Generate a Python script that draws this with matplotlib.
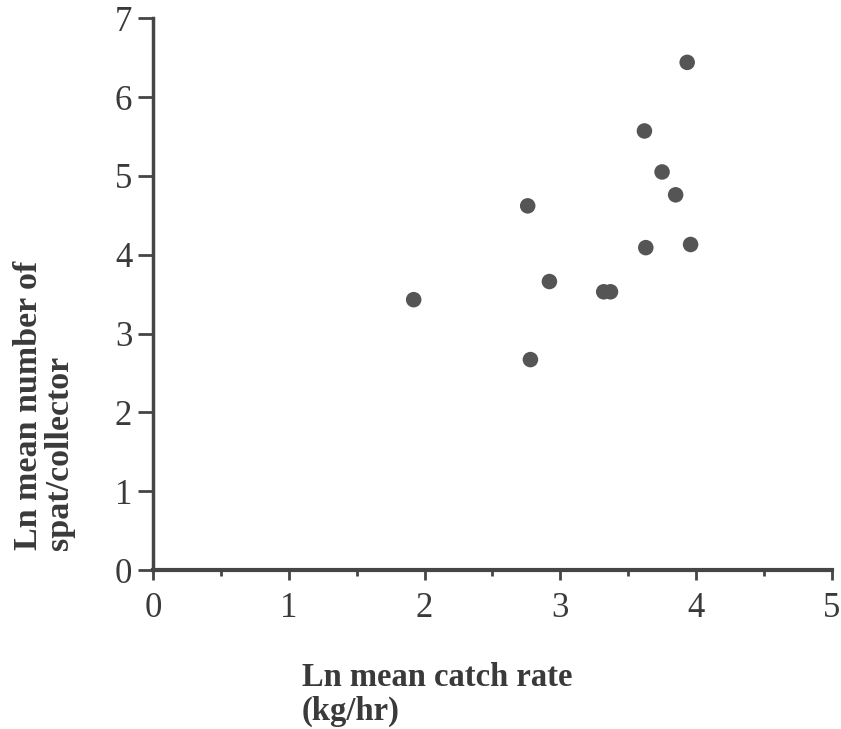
import matplotlib
matplotlib.use('Agg')
import matplotlib.pyplot as plt
from matplotlib.ticker import MultipleLocator

# ln mean catch rate (kg/hr) vs ln mean number of spat/collector
catch_rate = [1.92, 2.76, 2.78, 2.92, 3.32, 3.37, 3.62, 3.63, 3.75, 3.85, 3.935, 3.96]
spat = [3.43, 4.62, 2.67, 3.66, 3.53, 3.53, 5.57, 4.09, 5.05, 4.76, 6.44, 4.13]

x_ticks = [0, 1, 2, 3, 4, 5]
y_ticks = [0, 1, 2, 3, 4, 5, 6, 7]

ink = '#454545'
plt.rcParams['font.family'] = ['Liberation Serif', 'DejaVu Serif']

fig = plt.figure(figsize=(8.41, 7.29), dpi=100)
ax = fig.add_axes([0.182, 0.218, 0.807, 0.757])

ax.scatter(catch_rate, spat, s=125, color='#555555', edgecolors='none', zorder=3)

ax.set_xlim(0, 5)
ax.set_ylim(0, 7)
ax.set_xticks(x_ticks)
ax.set_yticks(y_ticks)
ax.xaxis.set_minor_locator(MultipleLocator(0.5))

for s in ['top', 'right']:
    ax.spines[s].set_visible(False)
ax.spines['left'].set_linewidth(2.5)
ax.spines['bottom'].set_linewidth(3)
ax.spines['left'].set_color(ink)
ax.spines['bottom'].set_color(ink)

ax.tick_params(axis='y', direction='out', length=11, width=2, color=ink,
               labelsize=25, labelcolor='#3a3a3a', pad=4)
ax.tick_params(axis='x', which='major', direction='out', length=7, width=2,
               color=ink, labelsize=25, labelcolor='#3a3a3a', pad=9)
ax.tick_params(axis='x', which='minor', direction='out', length=4, width=2, color=ink)

fig.text(302 / 841, 1 - 662 / 729, 'Ln mean catch rate\n(kg/hr)', ha='left', va='top',
         fontsize=23.5, fontweight='bold', color='#3a3a3a', multialignment='left',
         linespacing=1.1)
fig.text(44 / 841, 1 - 550 / 729, 'Ln mean number of\nspat/collector', ha='center',
         va='bottom', rotation=90, fontsize=24.5, fontweight='bold', color='#3a3a3a',
         multialignment='left', linespacing=1.0)

fig.savefig('out.png', dpi=100)
